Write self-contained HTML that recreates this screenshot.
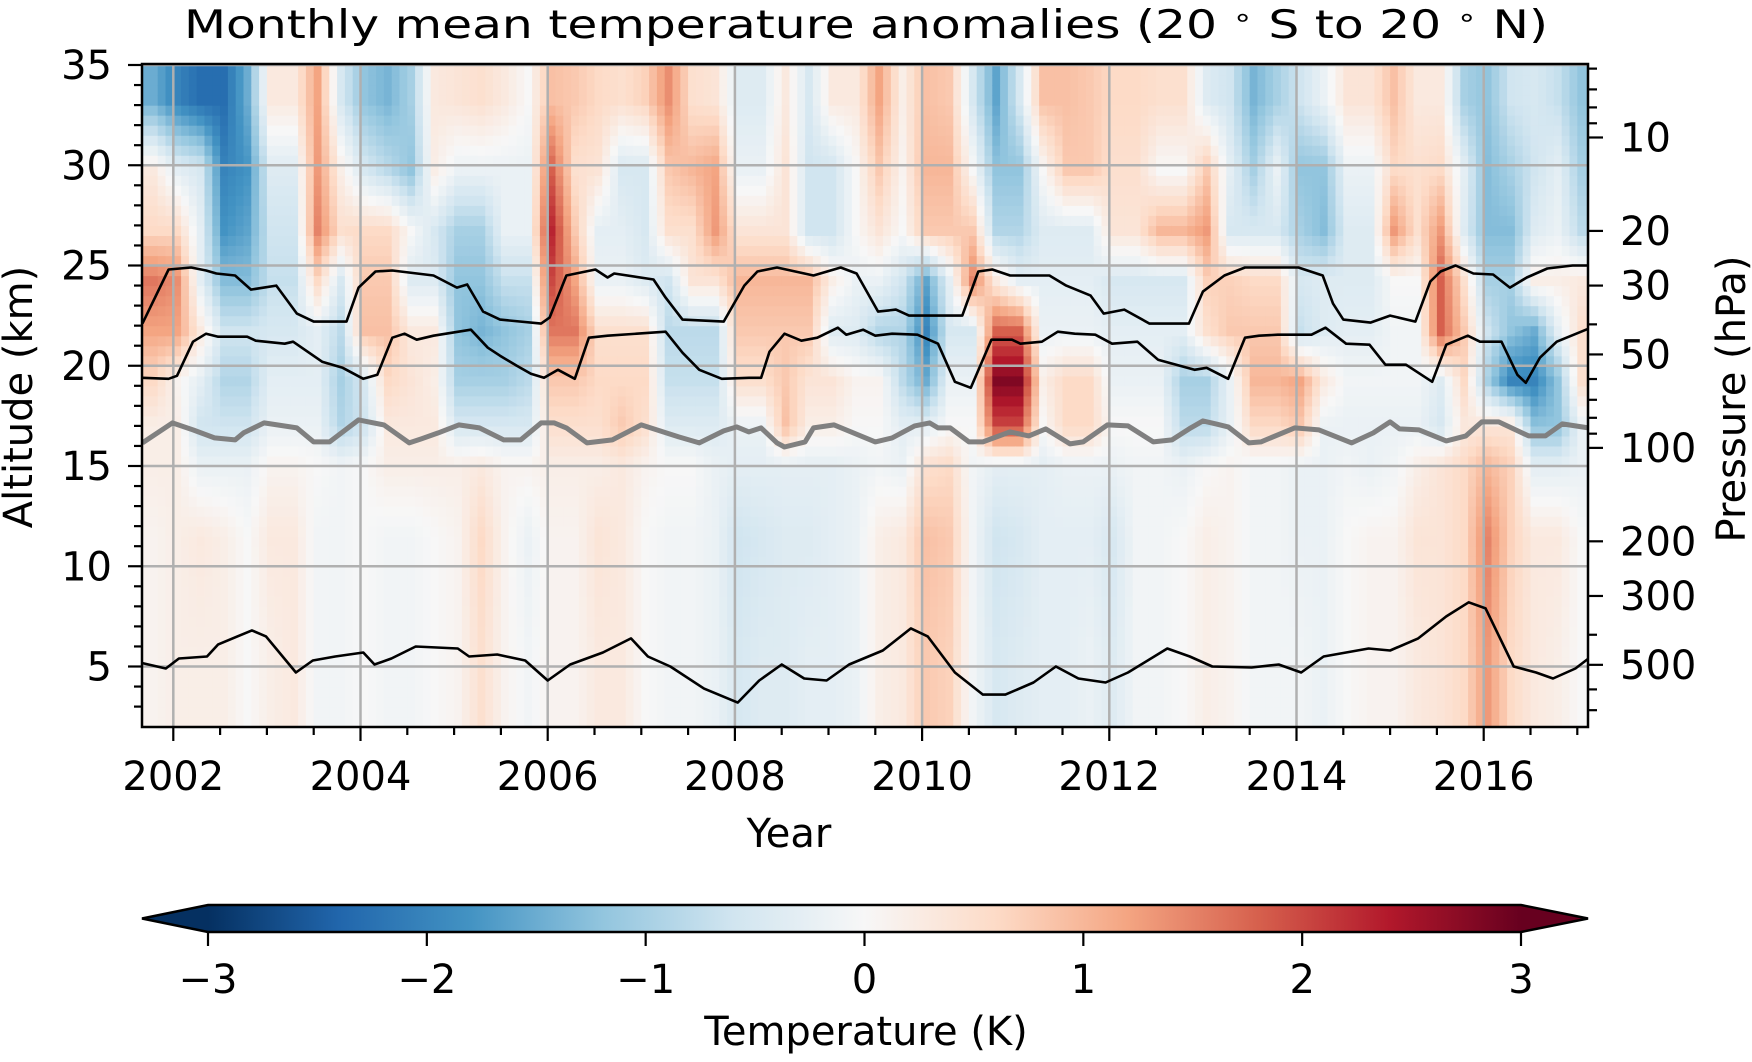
<!DOCTYPE html>
<html><head><meta charset="utf-8">
<style>
html,body{margin:0;padding:0;background:#fff;}
svg{display:block;font-family:"DejaVu Sans","Liberation Sans",sans-serif;}
</style></head>
<body>
<svg id="chart" xmlns="http://www.w3.org/2000/svg" width="1752" height="1062" viewBox="0 0 1752 1062">
<defs>
<clipPath id="plotclip"><rect x="142" y="64" width="1446" height="663"/></clipPath>
<linearGradient id="cbgrad" x1="0" x2="1" y1="0" y2="0">
<stop offset="0" stop-color="#053061"/><stop offset="0.1" stop-color="#2166ac"/><stop offset="0.2" stop-color="#4393c3"/><stop offset="0.3" stop-color="#92c5de"/><stop offset="0.4" stop-color="#d1e5f0"/><stop offset="0.5" stop-color="#f7f7f7"/><stop offset="0.6" stop-color="#fddbc7"/><stop offset="0.7" stop-color="#f4a582"/><stop offset="0.8" stop-color="#d6604d"/><stop offset="0.9" stop-color="#b2182b"/><stop offset="1" stop-color="#67001f"/>
</linearGradient>
</defs>
<text x="184" y="38" font-size="39" textLength="1364" lengthAdjust="spacingAndGlyphs">Monthly mean temperature anomalies (20 <tspan font-size="26" dy="-12">∘</tspan><tspan dy="12"> S to 20 </tspan><tspan font-size="26" dy="-12">∘</tspan><tspan dy="12"> N)</tspan></text>
<g id="heat" clip-path="url(#plotclip)"></g>
<g id="grid"></g>
<g id="lines" clip-path="url(#plotclip)"></g>
<rect x="142" y="64" width="1446" height="663" fill="none" stroke="#000" stroke-width="2.5"/>
<g id="ticks"></g>
<text x="789" y="847" font-size="40" text-anchor="middle">Year</text>
<text transform="translate(32,397) rotate(-90)" font-size="40" text-anchor="middle">Altitude (km)</text>
<text transform="translate(1745,399) rotate(-90)" font-size="40" text-anchor="middle">Pressure (hPa)</text>
<g id="cbar"></g>
<text x="866" y="1045" font-size="40" text-anchor="middle">Temperature (K)</text>
</svg>
<script>
// ---- data ----
const rowEdges = [2, 9, 14, 16, 18, 20.5, 23, 25.5, 28, 31.5, 35];
const colStart = 2001.667;
const colStep = 0.25;
const row0 = [0.1,0.2,0.2,0.2,0.0,0.2,0.3,-0.1,-0.1,0.0,-0.1,-0.1,0.0,0.1,0.5,0.1,-0.1,0.1,0.1,0.3,0.3,0.0,-0.1,-0.1,-0.2,-0.5,-0.4,-0.4,-0.3,-0.3,-0.2,0.2,0.3,0.8,0.7,-0.1,-0.5,-0.4,-0.3,-0.3,-0.2,-0.4,-0.1,-0.1,0.0,0.2,0.1,-0.1,-0.1,-0.1,-0.2,0.0,0.1,0.1,0.3,0.4,0.6,1.3,0.6,0.3,0.2,0.0];
const row1 = [0.1,0.2,0.3,0.2,0.0,0.3,0.3,-0.1,-0.1,0.0,-0.1,-0.1,0.0,0.1,0.6,0.1,-0.2,0.1,0.1,0.4,0.3,0.0,-0.1,-0.1,-0.2,-0.6,-0.5,-0.4,-0.4,-0.3,-0.2,0.2,0.3,0.9,0.8,-0.1,-0.6,-0.5,-0.3,-0.3,-0.3,-0.5,-0.1,-0.1,0.0,0.2,0.1,-0.1,-0.1,-0.2,-0.2,0.0,0.1,0.1,0.4,0.4,0.6,1.5,0.7,0.3,0.3,0.0];
const row2 = [0.2,0.2,-0.2,-0.2,-0.2,0.1,0.1,0.0,-0.1,0.0,0.2,0.2,0.2,0.2,0.3,0.1,0.1,0.2,0.2,0.2,0.3,0.1,0.0,0.0,-0.2,-0.3,-0.3,-0.3,-0.3,-0.3,-0.2,-0.1,-0.2,0.5,0.6,-0.1,-0.3,-0.3,-0.3,-0.2,-0.2,-0.2,-0.1,-0.1,-0.2,0.0,0.1,-0.1,-0.1,-0.2,-0.2,-0.1,-0.2,-0.1,0.2,0.4,0.6,1.0,0.7,-0.3,-0.3,-0.2];
const row3 = [0.2,0.2,-0.6,-0.6,-0.6,-0.2,-0.2,-0.2,-0.9,-0.6,0.3,0.3,0.3,-0.5,-0.5,-0.5,-0.5,0.5,0.5,0.5,0.8,0.5,-0.4,-0.4,-0.4,-0.2,-0.2,0.9,0.2,0.2,0.0,0.0,-0.3,-0.3,0.0,0.0,2.0,2.0,0.0,0.6,0.6,0.0,0.0,0.0,-0.8,-0.8,-0.2,0.6,0.6,0.8,-0.2,-0.2,-0.2,-0.2,-0.2,-0.5,0.3,0.4,0.4,-1.2,-1.2,-0.2];
const row4 = [0.6,0.1,-0.3,-0.9,-0.9,-0.3,-0.3,-0.3,-1.0,-0.5,0.6,0.4,0.2,-1.0,-1.0,-1.0,-0.8,0.8,0.8,0.6,0.6,0.6,-0.7,-0.7,-0.7,0.5,0.5,0.8,0.4,0.4,0.1,0.1,-0.8,-1.5,-0.2,-0.2,2.8,2.8,0.2,0.6,0.6,-0.2,-0.2,-0.2,-1.0,-1.0,-0.2,1.0,1.0,1.2,0.3,-0.1,-0.1,-0.1,-0.1,-0.4,0.6,-1.0,-2.0,-2.0,-1.2,0.5];
const row5 = [1.2,1.2,0.3,-0.6,-0.6,-0.5,-0.5,-0.3,-0.8,0.9,0.9,0.3,0.3,-1.2,-1.4,-1.2,-1.0,1.6,1.6,0.5,0.5,0.5,-0.8,-0.8,-0.8,0.8,0.8,0.8,0.8,-0.4,-0.4,-0.9,-0.9,-2.0,-0.5,-0.5,1.8,1.8,-0.2,-0.2,-0.2,-0.3,-0.3,-0.3,-0.3,0.5,0.8,0.8,0.8,-0.7,-0.4,-0.3,-0.3,-0.1,-0.1,1.8,0.8,-0.6,-1.2,-1.5,-0.3,0.5];
const row6 = [1.6,1.4,-0.3,-1.3,-1.3,-0.7,-0.7,0.6,-0.5,0.8,0.8,-0.4,-0.4,-1.2,-1.2,-0.7,-0.7,2.0,1.2,-0.2,-0.2,-0.4,-0.6,0.4,0.4,1.0,1.0,1.0,1.0,0.2,-0.2,-0.2,-0.6,-1.6,-0.3,1.5,0.3,-0.3,-0.3,-0.3,-0.3,-0.5,-0.5,-0.5,-0.5,0.7,0.7,0.6,0.6,-0.5,-0.4,-0.4,-0.4,0.0,0.0,1.8,0.5,-1.0,-1.0,0.2,0.2,0.3];
const row7 = [0.6,0.6,-0.3,-1.8,-1.6,-0.6,-0.6,1.5,0.5,0.6,0.6,0.0,-0.5,-1.0,-1.0,-0.2,-0.2,2.3,0.8,-0.3,-0.3,-0.5,0.5,0.5,1.3,0.4,0.4,0.4,-0.6,-0.6,0.0,0.4,0.0,0.8,0.8,0.8,-0.9,-0.9,-0.4,-0.4,-0.4,0.4,0.4,1.0,1.0,1.3,-0.5,-0.5,-0.5,-1.0,-1.3,-0.4,-0.4,1.3,0.5,1.3,-0.4,-1.3,-1.3,-0.4,-0.2,-0.8];
const row8 = [0.3,-0.3,-0.5,-2.0,-1.8,-0.4,-0.4,1.3,0.2,-0.5,-0.8,-1.2,0.2,-0.2,-0.2,-0.2,-0.2,1.8,0.5,0.4,-0.5,-0.5,0.8,1.0,1.2,-0.2,-0.2,0.4,-0.6,-0.6,0.0,0.8,0.1,1.0,1.0,0.0,-1.2,-1.2,0.0,0.8,0.8,0.5,0.5,0.0,0.0,0.8,-0.3,-1.0,-0.2,-1.2,-1.2,-0.2,-0.2,0.6,0.5,0.6,-0.3,-1.3,-1.0,-0.6,-0.3,-1.0];
const row9 = [-1.5,-2.0,-2.3,-2.3,-1.5,0.3,0.3,1.2,-0.5,-1.2,-1.4,-1.0,0.3,0.4,0.5,0.3,0.0,0.9,0.8,0.6,0.5,0.7,1.4,0.5,0.4,-0.4,-0.4,0.3,-0.5,0.3,0.3,1.2,0.2,0.9,0.8,-0.5,-1.6,-0.5,0.9,0.9,0.8,0.6,0.6,0.5,0.5,-0.4,-0.6,-1.4,-1.0,-0.6,-0.2,0.4,0.4,0.9,0.3,0.3,-1.0,-1.2,-0.6,-0.5,-0.7,-1.2];
const heatRows = [row0,row1,row2,row3,row4,row5,row6,row7,row8,row9];

const upperLineT = [2001.67,2001.95,2002.19,2002.35,2002.46,2002.66,2002.83,2003.1,2003.32,2003.5,2003.85,2003.98,2004.16,2004.34,2004.78,2005.03,2005.14,2005.31,2005.49,2005.93,2006.02,2006.2,2006.51,2006.64,2006.71,2007.13,2007.26,2007.44,2007.88,2008.1,2008.24,2008.45,2008.84,2009.13,2009.3,2009.53,2009.72,2009.86,2010.43,2010.6,2010.75,2010.94,2011.36,2011.54,2011.8,2011.94,2012.16,2012.43,2012.85,2013.0,2013.23,2013.45,2014.02,2014.28,2014.39,2014.5,2014.79,2015.0,2015.27,2015.43,2015.54,2015.7,2015.89,2016.1,2016.28,2016.46,2016.68,2016.95,2017.12];
const upperLineAlt = [22.1,24.8,24.9,24.75,24.6,24.5,23.8,24.0,22.6,22.2,22.2,23.9,24.7,24.75,24.5,23.9,24.05,22.7,22.3,22.1,22.4,24.5,24.8,24.4,24.6,24.3,23.4,22.3,22.2,24.0,24.7,24.9,24.5,24.9,24.6,22.7,22.8,22.5,22.5,24.7,24.8,24.5,24.5,24.0,23.5,22.6,22.8,22.1,22.1,23.7,24.5,24.9,24.9,24.5,23.1,22.3,22.15,22.5,22.2,24.2,24.7,25.0,24.6,24.55,23.9,24.4,24.85,25.0,25.0];
const lowerLineT = [2001.67,2001.95,2002.04,2002.21,2002.35,2002.48,2002.79,2002.88,2003.19,2003.28,2003.59,2003.81,2004.03,2004.18,2004.34,2004.47,2004.6,2004.78,2005.18,2005.36,2005.49,2005.67,2005.82,2005.96,2006.11,2006.29,2006.44,2006.64,2006.95,2007.26,2007.44,2007.62,2007.86,2008.15,2008.28,2008.37,2008.53,2008.71,2008.88,2009.1,2009.19,2009.37,2009.5,2009.68,2009.95,2010.17,2010.35,2010.52,2010.74,2010.96,2011.05,2011.28,2011.45,2011.63,2011.85,2012.03,2012.3,2012.52,2012.91,2013.04,2013.27,2013.45,2013.6,2013.8,2014.16,2014.31,2014.53,2014.78,2014.95,2015.17,2015.45,2015.6,2015.83,2015.96,2016.19,2016.36,2016.45,2016.6,2016.78,2017.12];
const lowerLineAlt = [19.4,19.35,19.5,21.2,21.6,21.45,21.45,21.25,21.1,21.2,20.2,19.9,19.35,19.55,21.4,21.6,21.3,21.5,21.8,20.9,20.5,20.0,19.6,19.4,19.8,19.35,21.4,21.5,21.6,21.7,20.65,19.8,19.35,19.4,19.4,20.7,21.6,21.25,21.4,21.9,21.55,21.8,21.5,21.6,21.55,21.1,19.2,18.9,21.3,21.3,21.1,21.2,21.7,21.6,21.55,21.1,21.2,20.3,19.8,19.9,19.35,21.4,21.5,21.55,21.55,21.9,21.1,21.05,20.05,20.05,19.2,21.05,21.5,21.2,21.2,19.55,19.15,20.4,21.2,21.85];
const tropoT = [2001.67,2001.99,2002.21,2002.44,2002.66,2002.75,2002.97,2003.32,2003.5,2003.67,2003.98,2004.25,2004.52,2004.65,2004.83,2005.05,2005.27,2005.53,2005.71,2005.93,2006.07,2006.2,2006.42,2006.69,2007.0,2007.4,2007.62,2007.88,2008.02,2008.15,2008.28,2008.45,2008.53,2008.75,2008.84,2009.06,2009.5,2009.68,2009.92,2010.08,2010.17,2010.3,2010.5,2010.65,2010.94,2011.14,2011.32,2011.58,2011.72,2011.98,2012.2,2012.47,2012.67,2012.87,2013.0,2013.14,2013.27,2013.49,2013.62,2013.98,2014.24,2014.59,2014.82,2015.0,2015.1,2015.31,2015.6,2015.81,2015.98,2016.16,2016.48,2016.66,2016.84,2017.12];
const tropoAlt = [16.15,17.15,16.8,16.4,16.3,16.65,17.15,16.9,16.2,16.2,17.3,17.05,16.15,16.35,16.65,17.05,16.9,16.3,16.3,17.15,17.15,16.9,16.15,16.3,17.05,16.45,16.15,16.75,16.95,16.7,16.9,16.15,15.95,16.2,16.9,17.05,16.2,16.4,17.0,17.15,16.9,16.9,16.2,16.2,16.7,16.5,16.85,16.1,16.2,17.05,17.0,16.2,16.3,16.9,17.25,17.1,16.95,16.15,16.2,16.9,16.8,16.15,16.65,17.2,16.85,16.8,16.25,16.5,17.2,17.2,16.5,16.5,17.1,16.9];
const lowLineT = [2001.67,2001.92,2002.06,2002.36,2002.48,2002.84,2002.99,2003.31,2003.49,2003.73,2004.03,2004.15,2004.33,2004.59,2005.04,2005.16,2005.46,2005.76,2006.0,2006.24,2006.59,2006.89,2007.07,2007.31,2007.67,2008.03,2008.26,2008.5,2008.74,2008.98,2009.22,2009.58,2009.88,2010.06,2010.35,2010.65,2010.89,2011.19,2011.43,2011.67,2011.96,2012.2,2012.62,2012.86,2013.1,2013.52,2013.81,2014.05,2014.29,2014.77,2015.0,2015.3,2015.6,2015.84,2016.02,2016.32,2016.56,2016.74,2016.98,2017.12];
const lowLineAlt = [5.17,4.9,5.4,5.5,6.1,6.8,6.5,4.7,5.3,5.5,5.7,5.1,5.4,6.0,5.9,5.5,5.6,5.3,4.3,5.1,5.7,6.4,5.5,5.0,3.9,3.2,4.3,5.1,4.4,4.3,5.1,5.8,6.9,6.5,4.7,3.6,3.6,4.2,5.0,4.4,4.2,4.7,5.9,5.5,5.0,4.95,5.1,4.7,5.5,5.9,5.8,6.4,7.5,8.2,7.9,5.0,4.7,4.4,4.9,5.4];

const yearTicks = [2002,2004,2006,2008,2010,2012,2014,2016];
const altTicks = [5,10,15,20,25,30,35];
const pressTicks = [10,20,30,50,100,200,300,500];
const pressMinor = [6,7,8,9,40,60,70,80,90,400,600,700];
const cbarTicks = [-3,-2,-1,0,1,2,3];

// ---- scales ----
const NS = "http://www.w3.org/2000/svg";
function xS(t){ return 173.3 + (t-2002)*93.6; }
function yS(a){ return 65 + (35-a)*20.05; }
function pY(p){ return -172.9 + 134.8*Math.log(p); }
function cbX(v){ return 208 + (v+3)/6*1313; }
const stops = [[5,48,97],[33,102,172],[67,147,195],[146,197,222],[209,229,240],[247,247,247],[253,219,199],[244,165,130],[214,96,77],[178,24,43],[103,0,31]];
function cmap(v){
  let f = (Math.max(-3,Math.min(3,v))+3)/6*10;
  let i = Math.min(9,Math.floor(f)), r = f-i;
  const a = stops[i], b = stops[i+1];
  return "rgb("+a.map((c,k)=>Math.round(c+(b[k]-c)*r)).join(",")+")";
}
function mk(tag, attrs, parent){
  const e = document.createElementNS(NS, tag);
  for (const k in attrs) e.setAttribute(k, attrs[k]);
  parent.appendChild(e); return e;
}
const rowCenters = rowEdges.slice(0,-1).map((e,i)=>(e+rowEdges[i+1])/2);
const nCols = row0.length;
function valueAt(t, a){
  let ci = (t - colStart)/colStep - 0.5;
  ci = Math.max(0, Math.min(nCols-1, ci));
  const c0 = Math.floor(ci), c1 = Math.min(nCols-1, c0+1), cr = ci-c0;
  let ri;
  if (a <= rowCenters[0]) ri = 0;
  else if (a >= rowCenters[rowCenters.length-1]) ri = rowCenters.length-1;
  else { for (let k=0;k<rowCenters.length-1;k++){ if (a>=rowCenters[k] && a<rowCenters[k+1]) { ri = k + (a-rowCenters[k])/(rowCenters[k+1]-rowCenters[k]); break; } } }
  const r0 = Math.floor(ri), r1 = Math.min(rowCenters.length-1, r0+1), rr = ri-r0;
  const v00 = heatRows[r0][c0], v01 = heatRows[r0][c1], v10 = heatRows[r1][c0], v11 = heatRows[r1][c1];
  return (v00*(1-cr)+v01*cr)*(1-rr) + (v10*(1-cr)+v11*cr)*rr;
}
// heatmap
const heat = document.getElementById('heat');
const months = 186, dA = 0.5;
for (let m=0; m<months; m++){
  const t0 = colStart + m/12, tc = t0 + 1/24;
  const x0 = xS(t0), w = 93.6/12 + 0.6;
  for (let a=2; a<35; a+=dA){
    const r = mk('rect', {x:x0.toFixed(1), y:yS(a+dA).toFixed(1), width:w.toFixed(1), height:(dA*20.05+0.6).toFixed(1), fill:cmap(valueAt(tc, a+dA/2))}, heat);
    
    
  }
}
// grid
const grid = document.getElementById('grid');
yearTicks.forEach(t=>{
  const l = mk('line', {x1:xS(t), x2:xS(t), y1:64, y2:727, stroke:'#b0b0b0', 'stroke-width':2.5}, grid);
  
  
});
altTicks.forEach(a=>{
  const l = mk('line', {x1:142, x2:1588, y1:yS(a), y2:yS(a), stroke:'#b0b0b0', 'stroke-width':2.5}, grid);
  
  
});
// lines
const lines = document.getElementById('lines');
function drawLine(T, A, color, w, name){
  const d = T.map((t,i)=>(i?'L':'M')+xS(t).toFixed(1)+','+yS(A[i]).toFixed(1)).join('');
  const p = mk('path', {d:d, fill:'none', stroke:color, 'stroke-width':w, 'stroke-linejoin':'round'}, lines);
  
  
}
drawLine(tropoT, tropoAlt, '#808080', 5, 'tropopause-line');
drawLine(upperLineT, upperLineAlt, '#000', 2.6, 'upper-zero-line');
drawLine(lowerLineT, lowerLineAlt, '#000', 2.6, 'lower-zero-line');
drawLine(lowLineT, lowLineAlt, '#000', 2.6, 'tropospheric-line');
// ticks
const tk = document.getElementById('ticks');
function tline(x1,y1,x2,y2,name){
  const l = mk('line', {x1:x1,y1:y1,x2:x2,y2:y2,stroke:'#000','stroke-width':2.2}, tk);
  
  
}
function tlabel(x,y,txt,anchor,name){
  const e = mk('text', {x:x,y:y,'font-size':40,'text-anchor':anchor}, tk);
  e.textContent = txt;
  
  
}
yearTicks.forEach(t=>{ tline(xS(t),727,xS(t),741,'x-major-tick'); tlabel(xS(t),790,String(t),'middle','x-tick-label'); });
for (let t=2002; t<=2017.01; t+=0.5){ if (t%2!==0) tline(xS(t),727,xS(t),735,'x-minor-tick'); }
altTicks.forEach(a=>{ tline(142,yS(a),128,yS(a),'y-major-tick'); tlabel(112,yS(a)+14,String(a),'end','y-tick-label'); });
for (let a=3; a<35; a++){ if (a%5!==0) tline(142,yS(a),134,yS(a),'y-minor-tick'); }
pressTicks.forEach(p=>{ tline(1588,pY(p),1603,pY(p),'right-major-tick'); tlabel(1620,pY(p)+14,String(p),'start','right-tick-label'); });
pressMinor.forEach(p=>{ tline(1588,pY(p),1597,pY(p),'right-minor-tick'); });
// colorbar
const cb = document.getElementById('cbar');
const cbr = mk('rect', {x:208,y:905,width:1313,height:27,fill:'url(#cbgrad)'}, cb);


const lt = mk('polygon', {points:'208,905 142,918.5 208,932', fill:'#053061'}, cb);


const rt = mk('polygon', {points:'1521,905 1588,918.5 1521,932', fill:'#67001f'}, cb);


const ol = mk('polygon', {points:'208,905 1521,905 1588,918.5 1521,932 208,932 142,918.5', fill:'none', stroke:'#000','stroke-width':2.5}, cb);


cbarTicks.forEach(v=>{
  const l = mk('line', {x1:cbX(v),x2:cbX(v),y1:932,y2:946,stroke:'#000','stroke-width':2.2}, cb);
  
  
  const e = mk('text', {x:cbX(v),y:993,'font-size':40,'text-anchor':'middle'}, cb);
  e.textContent = v<0 ? '\u2212'+Math.abs(v) : String(v);
  
  
});
</script>
</body></html>
